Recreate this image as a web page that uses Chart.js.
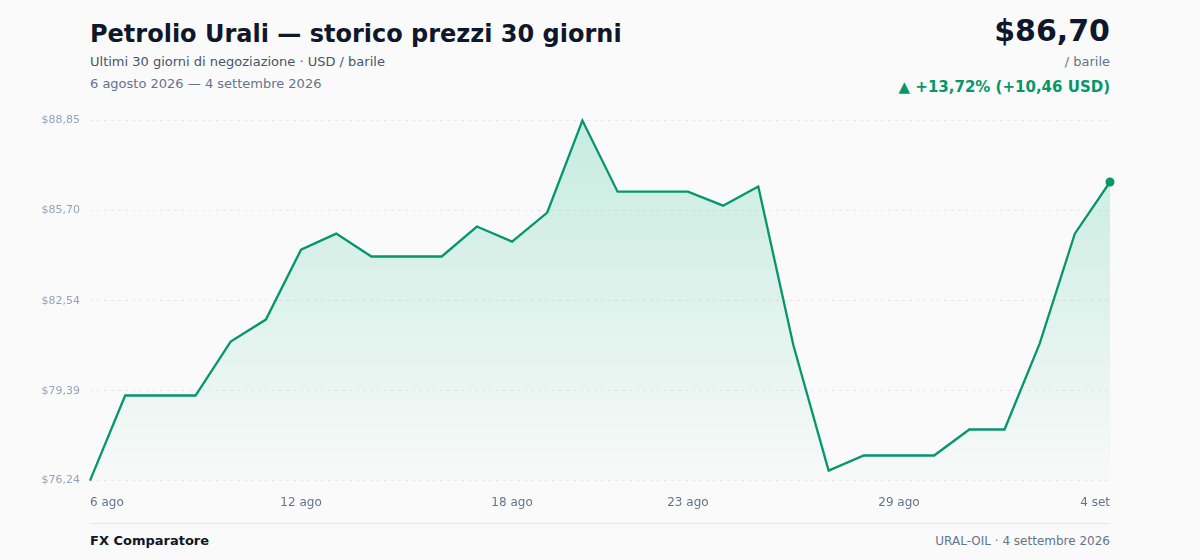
<!DOCTYPE html>
<html lang="it">
<head>
<meta charset="utf-8">
<title>Petrolio Urali — storico prezzi 30 giorni</title>
<script src="https://cdn.jsdelivr.net/npm/chart.js@4.4.1/dist/chart.umd.min.js"></script>
<style>
    html, body { margin: 0; padding: 0; }
    body {
        width: 1200px; height: 560px; overflow: hidden; position: relative;
        background: #fafafa; font-family: 'DejaVu Sans', sans-serif; color: #0f172a;
    }
    .title { position: absolute; left: 90px; top: 20px; font-size: 24px; font-weight: bold; }
    .sub { position: absolute; left: 90px; top: 54px; font-size: 13px; color: #475569; }
    .range { position: absolute; left: 90px; top: 76px; font-size: 13px; color: #64748b; }
    .price { position: absolute; right: 90px; top: 13px; font-size: 30px; font-weight: bold; }
    .unit { position: absolute; right: 90px; top: 54px; font-size: 13px; color: #64748b; }
    .change { position: absolute; right: 90px; top: 78px; font-size: 15px; font-weight: bold; color: #059669; }
    .chart-box { position: absolute; left: 30px; top: 104px; width: 1087px; height: 413px; }
    .footer-line { position: absolute; left: 90px; top: 523px; width: 1020px; height: 1px; background: #e5e7eb; }
    .brand { position: absolute; left: 90px; top: 533px; font-size: 13px; font-weight: bold; }
    .source { position: absolute; right: 90px; top: 534px; font-size: 12px; color: #64748b; }
</style>
</head>
<body>
<div class="title">Petrolio Urali — storico prezzi 30 giorni</div>
<div class="sub">Ultimi 30 giorni di negoziazione · USD / barile</div>
<div class="range">6 agosto 2026 — 4 settembre 2026</div>
<div class="price">$86,70</div>
<div class="unit">/ barile</div>
<div class="change">▲ +13,72% (+10,46 USD)</div>
<div class="chart-box"><canvas id="priceChart"></canvas></div>
<div class="footer-line"></div>
<div class="brand">FX Comparatore</div>
<div class="source">URAL-OIL · 4 settembre 2026</div>

<script>
// Dates (one per day, 6 ago -> 4 set)
const dates = [
    '6 ago', '7 ago', '8 ago', '9 ago', '10 ago', '11 ago', '12 ago', '13 ago', '14 ago', '15 ago',
    '16 ago', '17 ago', '18 ago', '19 ago', '20 ago', '21 ago', '22 ago', '23 ago', '24 ago', '25 ago',
    '26 ago', '27 ago', '28 ago', '29 ago', '30 ago', '31 ago', '1 set', '2 set', '3 set', '4 set'
];

// Close prices, USD / barile
const prices = [
    76.24, 79.22, 79.22, 79.22, 81.11, 81.88, 84.33, 84.89, 84.09, 84.09,
    84.09, 85.14, 84.61, 85.63, 88.85, 86.36, 86.36, 86.36, 85.87, 86.54,
    80.97, 76.59, 77.12, 77.12, 77.12, 78.03, 78.03, 81.04, 84.89, 86.70
];

// Axis ticks
const xTickLabels = ['6 ago', '12 ago', '18 ago', '23 ago', '29 ago', '4 set'];
const yTickValues = [76.24, 79.39, 82.54, 85.70, 88.85];

const lineColor = '#059669';
const fmtPrice = v => '$' + v.toFixed(2).replace('.', ',');

document.addEventListener('DOMContentLoaded', () => {
    Chart.defaults.font.family = "'DejaVu Sans', sans-serif";
    Chart.defaults.color = '#64748b';

    const ctx = document.getElementById('priceChart').getContext('2d');
    const lastIdx = prices.length - 1;

    new Chart(ctx, {
        type: 'line',
        data: {
            labels: dates,
            datasets: [{
                data: prices,
                borderColor: lineColor,
                borderWidth: 2.3,
                tension: 0,
                fill: 'start',
                backgroundColor: (c) => {
                    const area = c.chart.chartArea;
                    if (!area) return 'rgba(5,150,105,0.15)';
                    const g = c.chart.ctx.createLinearGradient(0, area.top, 0, area.bottom);
                    g.addColorStop(0, 'rgba(16,185,129,0.22)');
                    g.addColorStop(1, 'rgba(16,185,129,0.01)');
                    return g;
                },
                pointRadius: (c) => c.dataIndex === lastIdx ? 4.5 : 0,
                pointBackgroundColor: lineColor,
                pointBorderWidth: 0,
                clip: false
            }]
        },
        options: {
            responsive: true,
            maintainAspectRatio: false,
            animation: false,
            layout: { padding: { top: 10, bottom: 0, right: 0, left: 0 } },
            plugins: { legend: { display: false }, tooltip: { enabled: false } },
            scales: {
                x: {
                    offset: false,
                    grid: { display: false },
                    border: { display: false },
                    afterBuildTicks: (scale) => {
                        scale.ticks = scale.ticks.filter(t => xTickLabels.includes(dates[t.value]));
                    },
                    ticks: {
                        autoSkip: false,
                        maxRotation: 0,
                        align: 'inner',
                        padding: 7,
                        color: '#64748b',
                        font: { size: 12 }
                    }
                },
                y: {
                    min: yTickValues[0],
                    max: yTickValues[yTickValues.length - 1],
                    afterBuildTicks: (scale) => {
                        scale.ticks = yTickValues.map(v => ({ value: v }));
                    },
                    afterFit: (scale) => { scale.width = 60; },
                    border: { display: false, dash: [3, 4] },
                    grid: {
                        color: '#e5e7eb',
                        drawTicks: false,
                        lineWidth: 1
                    },
                    ticks: {
                        padding: 10,
                        color: '#94a3b8',
                        font: { size: 11 },
                        callback: (v) => fmtPrice(v)
                    }
                }
            }
        }
    });
});
</script>
</body>
</html>
